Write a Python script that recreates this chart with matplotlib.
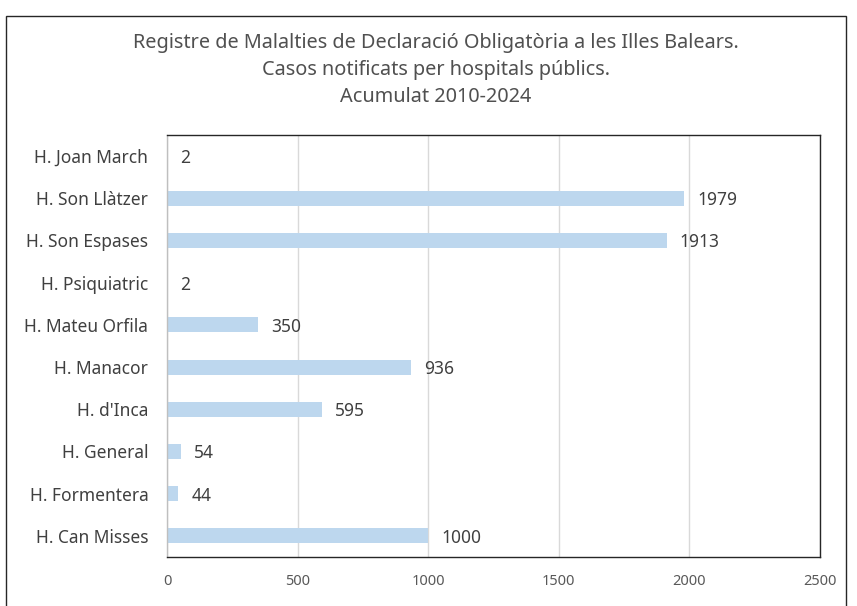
import matplotlib
matplotlib.use("Agg")
import matplotlib.pyplot as plt
from matplotlib.patches import Rectangle

plt.rcParams['font.family'] = ['Noto Sans', 'DejaVu Sans']

categories = ["H. Can Misses", "H. Formentera", "H. General", "H. d'Inca", "H. Manacor",
              "H. Mateu Orfila", "H. Psiquiatric", "H. Son Espases", "H. Son Llàtzer", "H. Joan March"]
values = [1000, 44, 54, 595, 936, 350, 2, 1913, 1979, 2]
xticks = [0, 500, 1000, 1500, 2000, 2500]
title_lines = ["Registre de Malalties de Declaració Obligatòria a les Illes Balears.",
               "Casos notificats per hospitals públics.",
               "Acumulat 2010-2024"]

W, H = 857, 606
fig = plt.figure(figsize=(W/100, H/100), dpi=100)
# outer frame
fig.patches.append(Rectangle((6/W, -0.1), (846-6)/W, (H-16)/H + 0.1, transform=fig.transFigure,
                             fill=False, edgecolor='#262626', linewidth=1.0))

left, right, top, bottom = 167, 820, 135, 557
ax = fig.add_axes([left/W, 1-bottom/H, (right-left)/W, (bottom-top)/H])
y = list(range(len(categories)))
ax.barh(y, values, height=0.36, color='#BDD7EE', zorder=2)
ax.set_xlim(0, 2500)
ax.set_ylim(-0.5, len(categories)-0.5)
ax.set_yticks(y)
ax.set_yticklabels(categories, fontsize=12.5, color='#404040')
ax.set_xticks(xticks)
ax.set_xticklabels([str(t) for t in xticks], fontsize=10.5, color='#595959')
ax.tick_params(axis='y', length=0, pad=13.5)
ax.tick_params(axis='x', length=0, pad=12)
ax.grid(axis='x', color='#D9D9D9', linewidth=1, zorder=0)
for s in ['top', 'right', 'bottom']:
    ax.spines[s].set_color('#262626')
    ax.spines[s].set_linewidth(1.0)
ax.spines['left'].set_color('#BFBFBF')
ax.spines['left'].set_linewidth(1.0)

for yi, v in zip(y, values):
    ax.annotate(str(v), (v, yi), xytext=(13, -2), textcoords='offset pixels',
                va='center', ha='left', fontsize=12.5, color='#404040')

for i, line in enumerate(title_lines):
    fig.text(436/W, 1-(43+27*i)/H, line, ha='center', va='center', fontsize=14.3, color='#505050')

fig.savefig("out.png", dpi=100)
